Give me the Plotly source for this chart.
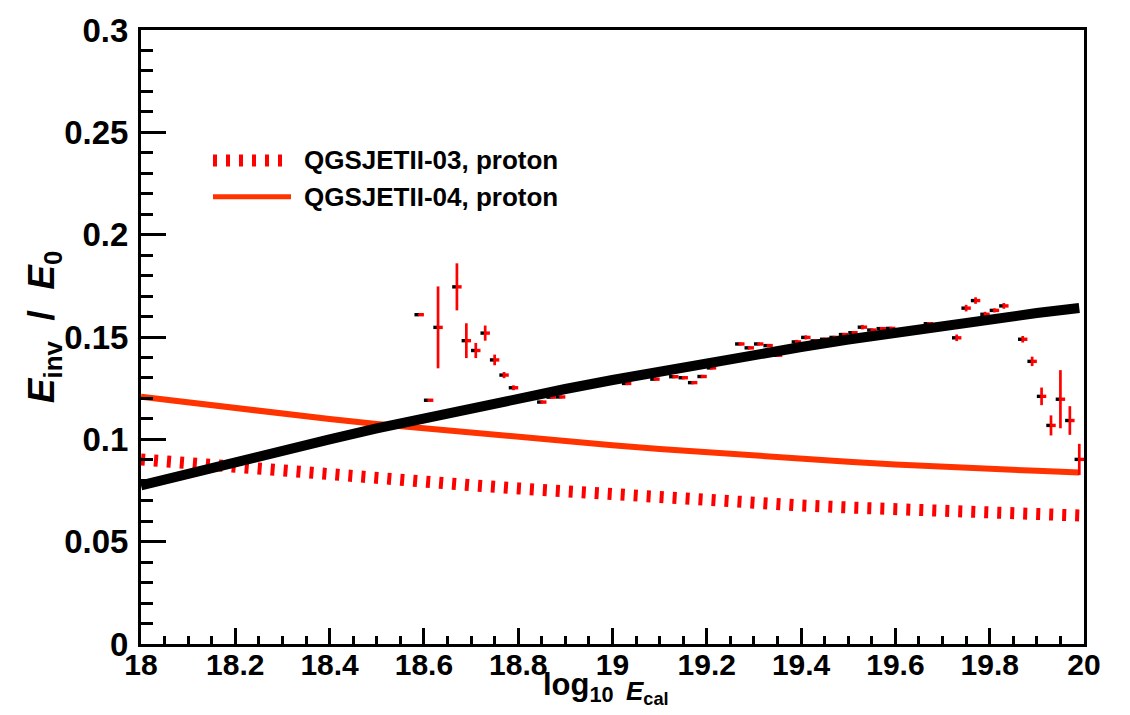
import plotly.graph_objects as go

# ---- data -------------------------------------------------------------
# model curves, sampled in log10(E_cal)
curve_x = [18.0, 18.1, 18.2, 18.3, 18.4, 18.5, 18.6, 18.7, 18.8, 18.9,
           19.0, 19.1, 19.2, 19.3, 19.4, 19.5, 19.6, 19.7, 19.8, 19.9, 19.99]
fit_black = [0.0775, 0.0834, 0.0891, 0.0946, 0.1000, 0.1053, 0.1103, 0.1152,
             0.1200, 0.1246, 0.1290, 0.1333, 0.1374, 0.1413, 0.1451, 0.1488,
             0.1522, 0.1555, 0.1587, 0.1617, 0.1642]
qgsjet04_proton = [0.1208, 0.1179, 0.1151, 0.1124, 0.1099, 0.1075, 0.1053,
                   0.1032, 0.1010, 0.0990, 0.0971, 0.0953, 0.0936, 0.0920,
                   0.0905, 0.0890, 0.0877, 0.0865, 0.0855, 0.0846, 0.0838]
qgsjet03_proton = [0.0902, 0.0882, 0.0863, 0.0844, 0.0826, 0.0809, 0.0792,
                   0.0776, 0.0760, 0.0744, 0.0729, 0.0713, 0.0700, 0.0688,
                   0.0677, 0.0667, 0.0658, 0.0650, 0.0642, 0.0635, 0.0628]

# binned measurement
bin_x = [18.59, 18.61, 18.63, 18.67, 18.69, 18.71, 18.73, 18.75, 18.77, 18.79,
         18.85, 18.87, 18.89, 18.99, 19.03, 19.09, 19.13, 19.15, 19.17, 19.19,
         19.21, 19.27, 19.29, 19.31, 19.33, 19.35, 19.39, 19.41, 19.43, 19.45,
         19.47, 19.49, 19.51, 19.53, 19.55, 19.57, 19.59, 19.67, 19.73, 19.75,
         19.77, 19.79, 19.81, 19.83, 19.87, 19.89, 19.91, 19.93, 19.95, 19.97,
         19.99]
bin_y = [0.1609, 0.1191, 0.1547, 0.1745, 0.1482, 0.1434, 0.1519, 0.1388, 0.1314, 0.1252,
         0.1182, 0.1206, 0.1207, 0.1281, 0.1273, 0.1294, 0.1306, 0.1301, 0.1277, 0.1307,
         0.1349, 0.1466, 0.1447, 0.1466, 0.1458, 0.1411, 0.1476, 0.1498, 0.1481, 0.1489,
         0.1498, 0.1512, 0.1521, 0.1548, 0.1534, 0.1541, 0.1542, 0.1565, 0.1496, 0.1641,
         0.1678, 0.1611, 0.1630, 0.1652, 0.1489, 0.1381, 0.1210, 0.1068, 0.1196, 0.1092,
         0.0902]
bin_err = [0.0005, 0.0005, 0.0200, 0.0115, 0.0085, 0.0037, 0.0037, 0.0026, 0.0015, 0.0012,
           0.0008, 0.0008, 0.0008, 0.0008, 0.0008, 0.0008, 0.0008, 0.0008, 0.0008, 0.0008,
           0.0008, 0.0008, 0.0008, 0.0008, 0.0008, 0.0008, 0.0010, 0.0010, 0.0008, 0.0008,
           0.0008, 0.0008, 0.0008, 0.0011, 0.0008, 0.0008, 0.0008, 0.0008, 0.0016, 0.0016,
           0.0016, 0.0012, 0.0010, 0.0014, 0.0016, 0.0023, 0.0043, 0.0049, 0.0142, 0.0070,
           0.0076]
bin_halfwidth = 0.01

x_tickvals = [18.0, 18.2, 18.4, 18.6, 18.8, 19.0, 19.2, 19.4, 19.6, 19.8, 20.0]
x_ticktext = ["18", "18.2", "18.4", "18.6", "18.8", "19", "19.2", "19.4", "19.6", "19.8", "20"]
y_tickvals = [0.0, 0.05, 0.1, 0.15, 0.2, 0.25, 0.3]
y_ticktext = ["0", "0.05", "0.1", "0.15", "0.2", "0.25", "0.3"]

legend_labels = ["QGSJETII-03, proton", "QGSJETII-04, proton"]

RED = "#ff0000"
ORANGE = "#ff3300"
FONT = "Liberation Sans, Arial, Helvetica, sans-serif"

W, H = 1130, 715
ML, MR, MT, MB = 141, 46, 18, 71
PW, PH = W - ML - MR, H - MT - MB


def px_to_paper(px, py):
    return (px - ML) / PW, (H - MB - py) / PH


fig = go.Figure()

# model curves underneath the points
fig.add_trace(go.Scatter(x=curve_x, y=qgsjet04_proton, mode="lines",
                         line=dict(color=ORANGE, width=6), hoverinfo="skip"))
fig.add_trace(go.Scatter(x=curve_x, y=qgsjet03_proton, mode="lines",
                         line=dict(color=RED, width=12, dash="4px,9px"), hoverinfo="skip"))

# measurement: black left half of the bin bar, red right half plus vertical error
zeros = [0.0] * len(bin_x)
halfw = [bin_halfwidth] * len(bin_x)
fig.add_trace(go.Scatter(
    x=bin_x, y=bin_y, mode="markers",
    marker=dict(size=1, color="black"),
    error_x=dict(type="data", symmetric=False, array=zeros, arrayminus=halfw,
                 color="black", thickness=3.4, width=0),
))
fig.add_trace(go.Scatter(
    x=bin_x, y=bin_y, mode="markers",
    marker=dict(size=1, color=RED),
    error_x=dict(type="data", symmetric=False, array=halfw, arrayminus=zeros,
                 color=RED, thickness=3.4, width=0),
    error_y=dict(type="data", array=bin_err, color=RED, thickness=2.7, width=0),
))

# black fit on top
fig.add_trace(go.Scatter(x=curve_x, y=fit_black, mode="lines",
                         line=dict(color="black", width=10), hoverinfo="skip"))

# legend drawn by hand
shapes = []
annotations = []
legend_rows = [(151, dict(color=RED, width=12, dash="4px,9px")),
               (188, dict(color=ORANGE, width=5))]
for (py, style), label in zip(legend_rows, legend_labels):
    x0, y0 = px_to_paper(213, py)
    x1, _ = px_to_paper(291, py)
    shapes.append(dict(type="line", xref="paper", yref="paper",
                       x0=x0, x1=x1, y0=y0, y1=y0, line=style))
    tx, ty = px_to_paper(302, py)
    annotations.append(dict(xref="paper", yref="paper", x=tx, y=ty,
                            xanchor="left", yanchor="middle", showarrow=False,
                            text="<b>%s</b>" % label,
                            font=dict(family=FONT, size=26, color="black")))

# x axis title: "log10" followed by a smaller "E_cal"
tx, ty = px_to_paper(541, 688)
annotations.append(dict(xref="paper", yref="paper", x=tx, y=ty,
                        xanchor="left", yanchor="middle", showarrow=False,
                        text="<b>log<sub>10</sub></b>",
                        font=dict(family=FONT, size=31, color="black")))
tx, ty = px_to_paper(624, 693)
annotations.append(dict(xref="paper", yref="paper", x=tx, y=ty,
                        xanchor="left", yanchor="middle", showarrow=False,
                        text="<b><i>E</i><sub>cal</sub></b>",
                        font=dict(family=FONT, size=26, color="black")))

# y axis title
tx, ty = px_to_paper(44, 321)
annotations.append(dict(xref="paper", yref="paper", x=tx, y=ty,
                        xanchor="center", yanchor="middle", showarrow=False,
                        textangle=-90,
                        text="<b><i>E</i><sub>inv</sub>\u00a0\u00a0/\u00a0\u00a0<i>E</i><sub>0</sub></b>",
                        font=dict(family=FONT, size=37, color="black")))

axis_common = dict(showgrid=False, zeroline=False, showline=True, linecolor="black",
                   linewidth=3, mirror=True, ticks="inside", tickcolor="black",
                   tickwidth=2.5, ticklabeloverflow="allow")

fig.update_layout(
    width=W, height=H,
    margin=dict(l=ML, r=MR, t=MT, b=MB),
    paper_bgcolor="white", plot_bgcolor="white",
    showlegend=False,
    shapes=shapes, annotations=annotations,
    xaxis=dict(range=[18, 20], tickvals=x_tickvals,
               ticktext=["<b>%s</b>" % t for t in x_ticktext], ticklen=16,
               ticklabelstandoff=-8,
               tickfont=dict(family=FONT, size=30, color="black"),
               minor=dict(dtick=0.05, ticklen=8, tickwidth=2.5, tickcolor="black",
                          ticks="inside", showgrid=False),
               **axis_common),
    yaxis=dict(range=[0, 0.3], tickvals=y_tickvals,
               ticktext=["<b>%s</b>" % t for t in y_ticktext], ticklen=25,
               ticklabelstandoff=3,
               tickfont=dict(family=FONT, size=33, color="black"),
               minor=dict(dtick=0.01, ticklen=12, tickwidth=2.5, tickcolor="black",
                          ticks="inside", showgrid=False),
               **axis_common),
)

fig.write_html("out.html")
